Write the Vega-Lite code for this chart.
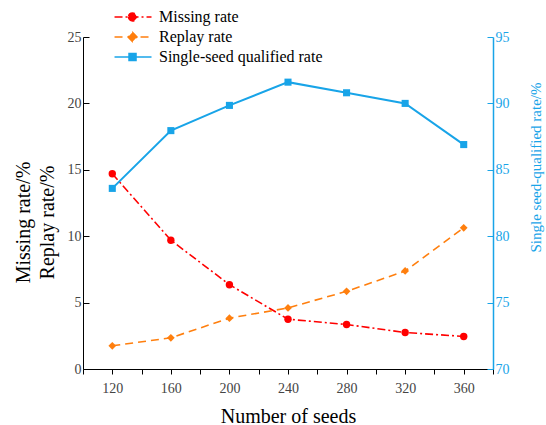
{
  "$schema": "https://vega.github.io/schema/vega-lite/v6.json",
  "autosize": {"type": "none"},
  "width": 410,
  "height": 332,
  "padding": {"left": 83, "top": 37, "right": 53, "bottom": 56},
  "background": "white",
  "config": {
    "view": {"stroke": null},
    "font": "Liberation Serif",
    "axis": {"grid": false, "labelFont": "Liberation Serif", "titleFont": "Liberation Serif", "titleFontWeight": "normal", "labelFontSize": 14, "titleFontSize": 18}
  },
  "data": {"values": [
    {"series": "Missing rate", "seeds": 120, "value": 14.7},
    {"series": "Missing rate", "seeds": 160, "value": 9.7},
    {"series": "Missing rate", "seeds": 200, "value": 6.35},
    {"series": "Missing rate", "seeds": 240, "value": 3.75},
    {"series": "Missing rate", "seeds": 280, "value": 3.35},
    {"series": "Missing rate", "seeds": 320, "value": 2.75},
    {"series": "Missing rate", "seeds": 360, "value": 2.45},
    {"series": "Replay rate", "seeds": 120, "value": 1.75},
    {"series": "Replay rate", "seeds": 160, "value": 2.35},
    {"series": "Replay rate", "seeds": 200, "value": 3.83},
    {"series": "Replay rate", "seeds": 240, "value": 4.6},
    {"series": "Replay rate", "seeds": 280, "value": 5.85},
    {"series": "Replay rate", "seeds": 320, "value": 7.38},
    {"series": "Replay rate", "seeds": 360, "value": 10.63},
    {"series": "Single-seed qualified rate", "seeds": 120, "value": 83.6},
    {"series": "Single-seed qualified rate", "seeds": 160, "value": 87.95},
    {"series": "Single-seed qualified rate", "seeds": 200, "value": 89.85},
    {"series": "Single-seed qualified rate", "seeds": 240, "value": 91.6},
    {"series": "Single-seed qualified rate", "seeds": 280, "value": 90.8},
    {"series": "Single-seed qualified rate", "seeds": 320, "value": 90.0},
    {"series": "Single-seed qualified rate", "seeds": 360, "value": 86.9}
  ]},
  "encoding": {
    "x": {
      "field": "seeds", "type": "quantitative",
      "scale": {"domain": [100, 380], "nice": false, "zero": false},
      "axis": {
        "title": "Number of seeds", "titleColor": "black", "titlePadding": 11, "titleFontSize": 20,
        "values": [100,120,140,160,180,200,220,240,260,280,300,320,340,360,380],
        "labelExpr": "(datum.value - 120) % 40 == 0 ? datum.label : ''",
        "domainColor": "black", "tickColor": "black", "labelColor": "#444", "tickSize": 5, "labelPadding": 7
      }
    },
    "color": {
      "field": "series", "type": "nominal",
      "scale": {"domain": ["Missing rate", "Replay rate", "Single-seed qualified rate"], "range": ["#ff0000", "#ff7f0e", "#18a4e8"]},
      "legend": {
        "orient": "none", "legendX": 57, "legendY": -28, "title": null, "padding": 0,
        "labelFont": "Liberation Serif", "labelFontSize": 16, "labelColor": "black", "labelLimit": 0, "labelOffset": 3,
        "rowPadding": 4, "symbolSize": 81, "symbolStrokeWidth": 1.5,
        "encode": {
          "symbols": {
            "update": {
              "shape": {"signal": "datum.value == 'Missing rate' ? 'M-7.44,0L0.78,0M-4.33,0A0.89,0.89,0,1,0,-2.55,0A0.89,0.89,0,1,0,-4.33,0Z' : datum.value == 'Replay rate' ? 'M-7.44,0L0.78,0M-3.44,-1.05L-2.44,0L-3.44,1.05L-4.44,0Z' : 'M-7.44,0L0.78,0M-4.22,-0.8L-2.66,-0.8L-2.66,0.8L-4.22,0.8Z'"},
              "strokeDash": {"signal": "datum.value == 'Missing rate' ? [8,3,2,3] : datum.value == 'Replay rate' ? [7,5] : [1,0]"},
              "stroke": {"signal": "datum.value == 'Missing rate' ? '#ff0000' : datum.value == 'Replay rate' ? '#ff7f0e' : '#18a4e8'"},
              "fill": {"signal": "datum.value == 'Missing rate' ? '#ff0000' : datum.value == 'Replay rate' ? '#ff7f0e' : '#18a4e8'"},
              "strokeWidth": {"value": 1.5},
              "opacity": {"value": 1}
            }
          }
        }
      }
    }
  },
  "layer": [
    {
      "transform": [{"filter": "datum.series != 'Single-seed qualified rate'"}],
      "encoding": {
        "y": {
          "field": "value", "type": "quantitative",
          "scale": {"domain": [0, 25], "nice": false},
          "axis": {
            "title": ["Missing rate/%", "Replay rate/%"], "titleColor": "black", "titlePadding": 10, "titleLineHeight": 24, "titleFontSize": 20, "titleY": 185,
            "values": [0, 5, 10, 15, 20, 25], "domainColor": "black", "tickColor": "black",
            "labelColor": "#444", "tickSize": -6, "labelPadding": 8
          }
        }
      },
      "layer": [
        {
          "mark": {"type": "line", "strokeWidth": 1.6},
          "encoding": {
            "strokeDash": {
              "field": "series", "type": "nominal",
              "scale": {"domain": ["Missing rate", "Replay rate", "Single-seed qualified rate"], "range": [[8, 3, 2, 3], [8, 5], [1, 0]]},
              "legend": null
            }
          }
        },
        {
          "transform": [{"filter": "datum.series == 'Missing rate'"}],
          "mark": {"type": "point", "filled": true, "opacity": 1, "shape": "circle", "size": 55}
        },
        {
          "transform": [{"filter": "datum.series == 'Replay rate'"}],
          "mark": {"type": "point", "filled": true, "opacity": 1, "shape": "diamond", "size": 60}
        }
      ]
    },
    {
      "transform": [{"filter": "datum.series == 'Single-seed qualified rate'"}],
      "encoding": {
        "y": {
          "field": "value", "type": "quantitative",
          "scale": {"domain": [70, 95], "nice": false, "zero": false},
          "axis": {
            "orient": "right", "title": "Single seed-qualified rate/%", "titleColor": "#18a4e8", "titlePadding": 34, "titleAngle": 270, "titleFontSize": 15, "titleY": 130,
            "values": [70, 75, 80, 85, 90, 95], "domainColor": "#18a4e8", "tickColor": "#18a4e8",
            "labelColor": "#18a4e8", "tickSize": -6, "labelPadding": 8, "domainWidth": 1.5
          }
        }
      },
      "layer": [
        {"mark": {"type": "line", "strokeWidth": 2}},
        {"mark": {"type": "point", "filled": true, "opacity": 1, "shape": "square", "size": 50}}
      ]
    }
  ],
  "resolve": {"scale": {"y": "independent"}}
}
